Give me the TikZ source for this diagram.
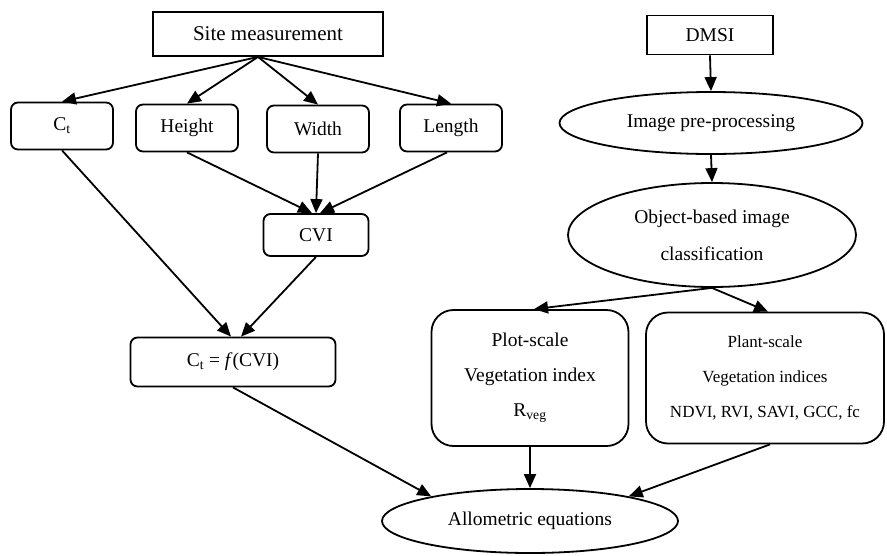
\documentclass[tikz,border=0pt]{standalone}
\usepackage{fontspec}
\setmainfont{Liberation Serif}
\usetikzlibrary{arrows.meta,shapes.geometric}

\tikzset{
  box/.style  = {draw, line width=1.8pt, inner sep=0pt, align=center,
                 font=\fontsize{19.5}{35}\selectfont},
  rbox/.style = {box, rounded corners=7pt},
  oval/.style = {box, ellipse},
  flow/.style = {-{Triangle[length=14pt,width=12pt]}, line width=1.8pt},
}

\begin{document}
\begin{tikzpicture}[x=1pt, y=-1pt]
\useasboundingbox (0,0) rectangle (887,555);

% left branch: field data
\node [box, minimum width=230pt, minimum height=44pt, font=\fontsize{21}{25}\selectfont] (site) at (268,34) {Site measurement};
\node [rbox, minimum width=102pt, minimum height=47pt] (ct) at (62,126) {C\textsubscript{t}};
\node [rbox, minimum width=102pt, minimum height=47pt] (height) at (187,128) {Height};
\node [rbox, minimum width=102pt, minimum height=47pt] (width) at (318,129) {Width};
\node [rbox, minimum width=102pt, minimum height=47pt] (length) at (451,128) {Length};
\node [rbox, minimum width=105pt, minimum height=42pt] (cvi) at (316,235) {CVI};
\node [rbox, minimum width=205pt, minimum height=49pt] (fcvi) at (233,362) {C\textsubscript{t} = \textit{f}(CVI)};

% right branch: image data
\node [box, minimum width=126pt, minimum height=39pt] (dmsi) at (710,35) {DMSI};
\node [oval, minimum width=303pt, minimum height=62pt] (pre) at (711,123) {Image pre-processing};
\node [oval, minimum width=288pt, minimum height=104pt, font=\fontsize{19.5}{37}\selectfont] (obia) at (712,235) {Object-based image\\classification};
\node [box, rounded corners=22pt, minimum width=197pt, minimum height=136pt] (plot) at (530,378)
  {Plot-scale\\Vegetation index\\R\textsubscript{veg}};
\node [box, rounded corners=22pt, minimum width=238pt, minimum height=131pt, font=\fontsize{17}{35}\selectfont] (plant) at (765,378)
  {Plant-scale\\Vegetation indices\\NDVI, RVI, SAVI, GCC, fc};
\node [oval, minimum width=296pt, minimum height=64pt] (allo) at (530,521) {Allometric equations};

% connectors
\draw [flow] ([xshift=-10pt]site.south) -- (ct.north);
\draw [flow] ([xshift=-10pt]site.south) -- (height.north);
\draw [flow] ([xshift=-10pt]site.south) -- (width.north);
\draw [flow] ([xshift=-10pt]site.south) -- (length.north);
\draw [flow] (height.south) -- ([xshift=-4pt]cvi.north);
\draw [flow] (width.south) -- (cvi.north);
\draw [flow] ([xshift=-4pt]length.south) -- ([xshift=4pt]cvi.north);
\draw [flow] (ct.south) -- ([xshift=-2pt]fcvi.north);
\draw [flow] (cvi.south) -- ([xshift=8pt]fcvi.north);
\draw [flow] (fcvi.south) -- (allo.166);

\draw [flow] (dmsi.south) -- (pre.north);
\draw [flow] (pre.south) -- (obia.north);
\draw [flow] (obia.south) -- ([xshift=4pt]plot.north);
\draw [flow] (obia.south) -- ([xshift=3pt]plant.north);
\draw [flow] (plot.south) -- (allo.north);
\draw [flow] ([xshift=5pt]plant.south) -- (allo.14);
\end{tikzpicture}
\end{document}
